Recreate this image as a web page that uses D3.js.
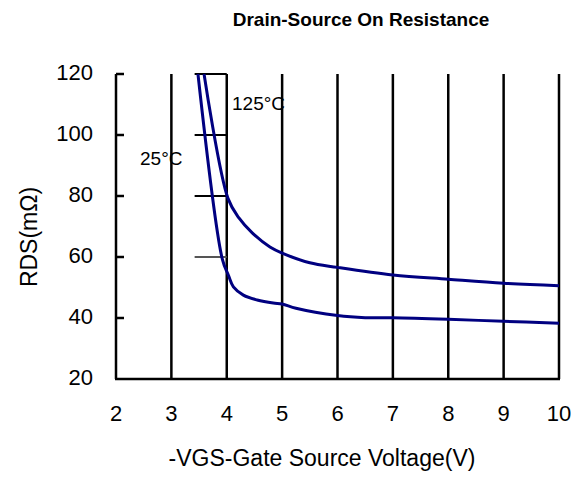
<!DOCTYPE html>
<html lang="en">
<head>
<meta charset="utf-8">
<title>Drain-Source On Resistance</title>
<script src="https://d3js.org/d3.v7.min.js"></script>
<style>
  body { margin: 0; background: #fff; }
  text { font-family: "Liberation Sans", Arial, sans-serif; fill: #000; }
</style>
</head>
<body>
<script>
// data
var xTicks = [2, 3, 4, 5, 6, 7, 8, 9, 10];
var yTicks = [20, 40, 60, 80, 100, 120];
var vgs25 = [3.48, 3.92, 4.03, 4.12, 4.30, 4.55, 4.84, 5.0, 5.25, 6, 6.5, 7, 8, 9, 10];
var rds25 = [120, 59.3, 54, 50.2, 47.5, 45.9, 44.9, 44.6, 43.2, 40.8, 40.1, 40.1, 39.6, 38.9, 38.3];
var vgs125 = [3.59, 4.02, 4.22, 4.46, 4.78, 5.0, 5.5, 6, 7, 8, 9, 10];
var rds125 = [120, 79.3, 72.8, 67.9, 63.3, 61.3, 58.1, 56.6, 54.1, 52.7, 51.4, 50.6];
var shortGrid = [60, 80, 100, 120];

var w = 583, h = 478;
var svg = d3.select("body").append("svg")
  .attr("width", w).attr("height", h);

var x = d3.scaleLinear().domain([2, 10]).range([116, 559]);
var y = d3.scaleLinear().domain([20, 120]).range([379, 74]);

// vertical grid
svg.selectAll(".vgrid")
  .data(xTicks.slice(1))
  .enter().append("line")
  .attr("x1", d => x(d)).attr("x2", d => x(d))
  .attr("y1", y(120)).attr("y2", y(20))
  .attr("stroke", "#000").attr("stroke-width", 2.5);

// short horizontal grid pieces left visible
svg.selectAll(".hgrid")
  .data(shortGrid)
  .enter().append("line")
  .attr("x1", x(3.42)).attr("x2", x(4))
  .attr("y1", d => y(d)).attr("y2", d => y(d))
  .attr("stroke", d => d == 60 ? "#555" : "#000").attr("stroke-width", 2);

// axes
svg.append("line")
  .attr("x1", x(2)).attr("x2", x(2)).attr("y1", y(120)).attr("y2", y(20))
  .attr("stroke", "#000").attr("stroke-width", 2.5);
svg.append("line")
  .attr("x1", x(2) - 1).attr("x2", x(10) + 1).attr("y1", y(20)).attr("y2", y(20))
  .attr("stroke", "#000").attr("stroke-width", 2.5);
svg.selectAll(".ytick")
  .data(yTicks.slice(1))
  .enter().append("line")
  .attr("x1", x(2)).attr("x2", x(2) + 8)
  .attr("y1", d => y(d)).attr("y2", d => y(d))
  .attr("stroke", "#000").attr("stroke-width", 2.5);

// tick labels
svg.selectAll(".ylab")
  .data(yTicks)
  .enter().append("text")
  .attr("x", 93).attr("y", d => y(d) + 6)
  .attr("text-anchor", "end").attr("font-size", 22)
  .text(d => d);
svg.selectAll(".xlab")
  .data(xTicks)
  .enter().append("text")
  .attr("x", d => x(d)).attr("y", 421)
  .attr("text-anchor", "middle").attr("font-size", 22)
  .text(d => d);

// curves
var line = d3.line()
  .x(d => x(d[0])).y(d => y(d[1]))
  .curve(d3.curveCatmullRom.alpha(0.5));
svg.append("path")
  .attr("d", line(d3.zip(vgs25, rds25)))
  .attr("fill", "none").attr("stroke", "#000080").attr("stroke-width", 3);
svg.append("path")
  .attr("d", line(d3.zip(vgs125, rds125)))
  .attr("fill", "none").attr("stroke", "#000080").attr("stroke-width", 3);

// curve labels
svg.append("text").attr("x", 232).attr("y", 110).attr("font-size", 19).text("125°C");
svg.append("text").attr("x", 140).attr("y", 165).attr("font-size", 19).text("25°C");

// titles
svg.append("text")
  .attr("x", 361).attr("y", 26)
  .attr("text-anchor", "middle").attr("font-size", 19).attr("font-weight", "bold")
  .text("Drain-Source On Resistance");
svg.append("text")
  .attr("x", 322).attr("y", 466)
  .attr("text-anchor", "middle").attr("font-size", 23)
  .text("-VGS-Gate Source Voltage(V)");
svg.append("text")
  .attr("transform", "translate(37,237) rotate(-90)")
  .attr("text-anchor", "middle").attr("font-size", 23)
  .text("RDS(mΩ)");
</script>
</body>
</html>
